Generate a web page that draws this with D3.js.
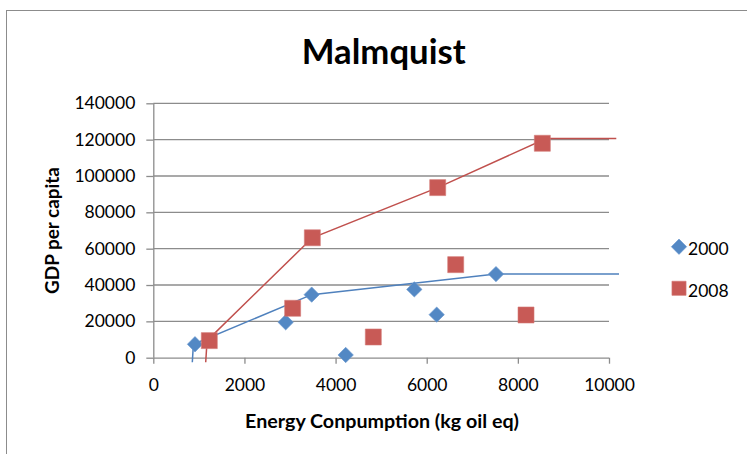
<!DOCTYPE html>
<html><head><meta charset="utf-8">
<script src="https://cdn.jsdelivr.net/npm/d3@7"></script>
<style>html,body{margin:0;padding:0;background:#fff;}svg{display:block;}</style>
</head><body>
<script>
// ---- data ----
const series2000X = [915, 2905, 3476, 4222, 5728, 6219, 7520];
const series2000Y = [7400, 19500, 34700, 1500, 37600, 23700, 46000];
const series2008X = [1229, 3058, 3490, 4828, 6241, 6636, 8179, 8537];
const series2008Y = [9400, 27200, 66000, 11400, 93600, 51200, 23500, 118000];
const frontier2000X = [856, 880, 3476, 7520, 10220];
const frontier2000Y = [-2500, 7400, 34700, 46000, 46000];
const frontier2008X = [1150, 1180, 3490, 6241, 8620, 10160];
const frontier2008Y = [-2500, 9400, 66000, 93600, 120600, 120600];
const xTicks = [0, 2000, 4000, 6000, 8000, 10000];
const yTicks = [0, 20000, 40000, 60000, 80000, 100000, 120000, 140000];
const seriesNames = ["2000", "2008"];
const titleText = "Malmquist";
const xTitle = "Energy Conpumption (kg oil eq)";
const yTitle = "GDP per capita";

const W = 747, H = 454;
const blue = "#4F81BD", red = "#C0504D";
const font = "Lato, 'Open Sans', sans-serif";
const svg = d3.select("body").append("svg").attr("width", W).attr("height", H);

// chart border
svg.append("rect").attr("x", 6.5).attr("y", 10.5).attr("width", 760).attr("height", 460)
  .attr("fill", "none").attr("stroke", "#8c8c8c").attr("stroke-width", 1);

const x = d3.scaleLinear().domain([0, 10000]).range([153.3, 609]);
const y = d3.scaleLinear().domain([0, 140000]).range([357.7, 103.3]);

// gridlines
svg.append("g").selectAll("line").data(yTicks.filter(d => d > 0)).join("line")
  .attr("x1", x(0)).attr("x2", x(10000)).attr("y1", d => y(d)).attr("y2", d => y(d))
  .attr("stroke", "#8c8c8c").attr("stroke-width", 1.3);

// axes
const gx = svg.append("g").attr("transform", `translate(0,${y(0)})`)
  .call(d3.axisBottom(x).tickValues(xTicks).tickSize(6).tickPadding(15).tickFormat(d3.format("d")));
const gy = svg.append("g").attr("transform", `translate(${x(0)},0)`)
  .call(d3.axisLeft(y).tickValues(yTicks).tickSize(7).tickPadding(11).tickFormat(d3.format("d")));
[gx, gy].forEach(g => {
  g.select(".domain").attr("stroke", "#8c8c8c").attr("stroke-width", 1.3);
  g.selectAll(".tick line").attr("stroke", "#8c8c8c").attr("stroke-width", 1.3);
  g.selectAll(".tick text").attr("fill", "#000").style("font-family", font).style("font-size", "17.5px");
});
gx.select(".domain").attr("d", `M${x(0)},0.5H${x(10000)}`);
gy.select(".domain").attr("d", `M0.5,${y(0)}V${y(140000)}`);

// frontier lines
const line = d3.line().x(d => x(d[0])).y(d => y(d[1]));
svg.append("path").datum(frontier2000X.map((v, i) => [v, frontier2000Y[i]]))
  .attr("d", line).attr("fill", "none").attr("stroke", blue).attr("stroke-width", 1.5);
svg.append("path").datum(frontier2008X.map((v, i) => [v, frontier2008Y[i]]))
  .attr("d", line).attr("fill", "none").attr("stroke", red).attr("stroke-width", 1.5);

// markers
const diamond = d3.symbol().type(d3.symbolSquare).size(118);
const square = d3.symbol().type(d3.symbolSquare).size(256);
svg.append("g").selectAll("path").data(series2000X.map((v, i) => [v, series2000Y[i]])).join("path")
  .attr("d", diamond).attr("transform", d => `translate(${x(d[0])},${y(d[1])}) rotate(45)`)
  .attr("fill", "#5388c4").attr("stroke", "#6a98cf").attr("stroke-width", 0.6);
svg.append("g").selectAll("path").data(series2008X.map((v, i) => [v, series2008Y[i]])).join("path")
  .attr("d", square).attr("transform", d => `translate(${x(d[0])},${y(d[1])})`)
  .attr("fill", "#c85a56").attr("stroke", "#d47a77").attr("stroke-width", 0.6);

// fit text to width helper
function fit(t, width, base) {
  t.style("font-size", base + "px");
  const w = t.node().getComputedTextLength();
  t.style("font-size", (base * width / w).toFixed(2) + "px");
  return t;
}

// title
fit(svg.append("text").attr("x", 383.7).attr("y", 64.3).attr("text-anchor", "middle")
  .style("font-family", font).style("font-weight", "bold").text(titleText), 164, 30);
// x title
fit(svg.append("text").attr("x", 382).attr("y", 428.3).attr("text-anchor", "middle")
  .style("font-family", font).style("font-weight", "bold").text(xTitle), 274, 17);
// y title
fit(svg.append("text").attr("transform", "translate(59,230.5) rotate(-90)").attr("text-anchor", "middle")
  .style("font-family", font).style("font-weight", "bold").text(yTitle), 127, 17);

// legend
const leg = svg.append("g");
leg.append("path").attr("d", diamond).attr("transform", "translate(679,246.7) rotate(45)")
  .attr("fill", "#5388c4").attr("stroke", "#6a98cf").attr("stroke-width", 0.6);
leg.append("path").attr("d", d3.symbol().type(d3.symbolSquare).size(200)).attr("transform", "translate(679,288.3)")
  .attr("fill", "#c85a56").attr("stroke", "#d47a77").attr("stroke-width", 0.6);
leg.selectAll("text").data(seriesNames).join("text")
  .attr("x", 688).attr("y", (d, i) => i === 0 ? 255 : 296.7)
  .style("font-family", font).style("font-size", "17.5px").text(d => d);
</script>
</body></html>
